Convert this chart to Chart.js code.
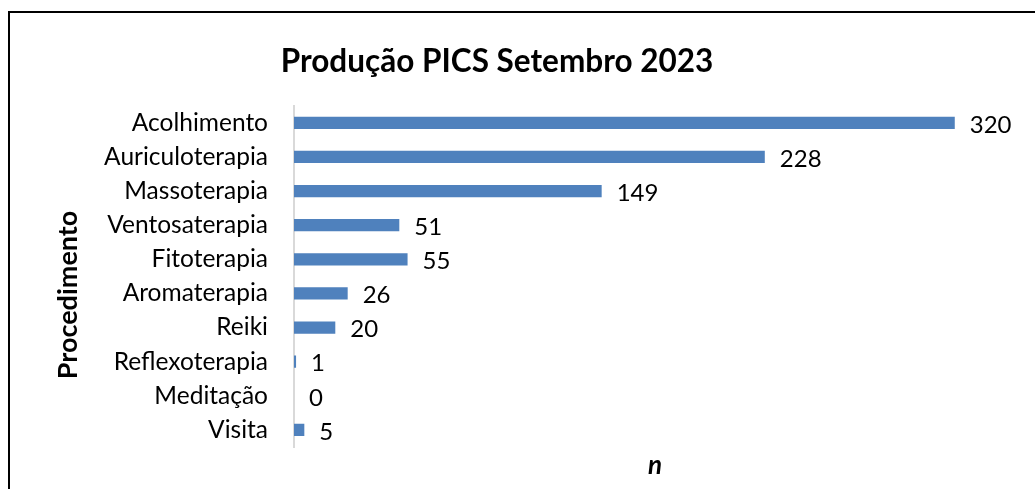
<!DOCTYPE html>
<html lang="pt">
<head>
    <meta charset="UTF-8">
    <title>Produção PICS Setembro 2023</title>
    <script src="https://cdn.jsdelivr.net/npm/chart.js@4"></script>
    <style>
        body { margin: 0; background: #fff; }
        #frame {
            position: absolute; left: 8px; top: 11px; width: 2000px; height: 2000px;
            border-left: 2px solid #000; border-top: 2px solid #000;
        }
        #wrap { position: absolute; left: 0; top: 0; width: 1035px; height: 489px; }
    </style>
</head>
<body>
    <div id="frame"></div>
    <div id="wrap"><canvas id="pics-chart" width="1035" height="489"></canvas></div>
    <script>
        // data
        const procedimentos = ['Acolhimento', 'Auriculoterapia', 'Massoterapia', 'Ventosaterapia', 'Fitoterapia',
            'Aromaterapia', 'Reiki', 'Reflexoterapia', 'Meditação', 'Visita'];
        const producao = [320, 228, 149, 51, 55, 26, 20, 1, 0, 5];
        const chartTitle = 'Produção PICS Setembro 2023';
        const yTitle = 'Procedimento';
        const xTitle = 'n';

        const FONT = 'Lato, "Open Sans", sans-serif';

        // values next to the bars
        const valueLabels = {
            id: 'valueLabels',
            afterDatasetsDraw(chart) {
                const ctx = chart.ctx;
                ctx.save();
                ctx.font = '24px ' + FONT;
                ctx.fillStyle = '#000';
                ctx.textAlign = 'left';
                ctx.textBaseline = 'middle';
                chart.getDatasetMeta(0).data.forEach((bar, i) => {
                    ctx.fillText(String(producao[i]), bar.x + 15, bar.y + 2);
                });
                ctx.restore();
            }
        };

        // axis titles (Excel places them off the plot centre)
        const axisTitles = {
            id: 'axisTitles',
            afterDraw(chart) {
                const ctx = chart.ctx;
                ctx.save();
                ctx.fillStyle = '#000';
                ctx.textAlign = 'center';
                ctx.textBaseline = 'middle';
                ctx.font = 'bold 27px ' + FONT;
                ctx.translate(68, 295);
                ctx.rotate(-Math.PI / 2);
                ctx.fillText(yTitle, 0, 0);
                ctx.restore();

                ctx.save();
                ctx.fillStyle = '#000';
                ctx.textAlign = 'center';
                ctx.textBaseline = 'middle';
                ctx.font = 'italic bold 26px ' + FONT;
                ctx.fillText(xTitle, 655, 466);
                ctx.restore();
            }
        };

        new Chart(document.getElementById('pics-chart'), {
            type: 'bar',
            data: {
                labels: procedimentos,
                datasets: [{
                    data: producao,
                    backgroundColor: '#4F81BD',
                    borderWidth: 0,
                    categoryPercentage: 1,
                    barPercentage: 0.36
                }]
            },
            options: {
                indexAxis: 'y',
                responsive: false,
                animation: false,
                layout: { padding: { top: 0, left: 0, right: 41, bottom: 42 } },
                plugins: {
                    legend: { display: false },
                    tooltip: { enabled: false },
                    title: {
                        display: true,
                        text: chartTitle,
                        color: '#000',
                        font: { family: FONT, size: 31.5, weight: 'bold' },
                        padding: { top: 43, bottom: 25 }
                    }
                },
                scales: {
                    x: {
                        display: false,
                        min: 0,
                        max: 339
                    },
                    y: {
                        grid: { display: false },
                        border: { display: true, color: '#d9d9d9', width: 2 },
                        ticks: {
                            color: '#000',
                            padding: 18,
                            font: { family: FONT, size: 24.5 }
                        },
                        afterFit(scale) { scale.width = 294; }
                    }
                }
            },
            plugins: [valueLabels, axisTitles]
        });
    </script>
</body>
</html>
